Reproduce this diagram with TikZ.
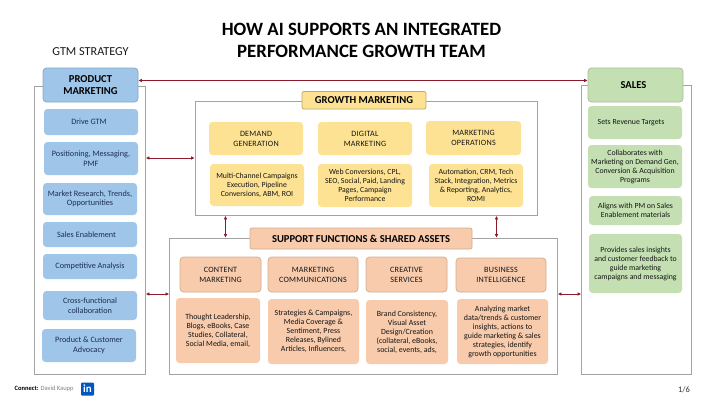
\documentclass[tikz,border=0pt]{standalone}
\usepackage{fontspec}
\setmainfont{Carlito}
\usetikzlibrary{arrows.meta}
\definecolor{bluebx}{HTML}{9FC5E8}
\definecolor{yellowbx}{HTML}{FDE294}
\definecolor{orangebx}{HTML}{F7CBAC}
\definecolor{greenbx}{HTML}{C4E0B2}
\definecolor{framegray}{HTML}{A3A3A3}
\definecolor{linkred}{HTML}{8B1A2B}
\definecolor{navytxt}{HTML}{1C2F4F}
\tikzset{
  framebox/.style={draw=framegray,line width=0.8pt,fill=white},
  bx/.style={rounded corners=3.5pt,align=center,inner sep=0pt,text=black!92},
  bluebox/.style={bx,fill=bluebx,text=navytxt,font=\fontsize{8.2}{9.5}\selectfont},
  yellowbox/.style={bx,fill=yellowbx,font=\fontsize{7.8}{9}\selectfont},
  orangebox/.style={bx,fill=orangebx,font=\fontsize{7.9}{9}\selectfont},
  greenbox/.style={bx,fill=greenbx,font=\fontsize{7.8}{9}\selectfont},
  headfont/.style={font=\fontsize{10.6}{12}\selectfont\bfseries,text=black},
  subfont/.style={font=\fontsize{8.1}{10}\selectfont\addfontfeatures{LetterSpace=3}},
  outlined/.style={draw=#1,line width=0.7pt},
  link/.style={draw=linkred,line width=0.9pt,{Latex[length=3.5pt,width=3.5pt]}-{Latex[length=3.5pt,width=3.5pt]}},
}
\newcommand{\bxn}[7]{%
  \pgfmathsetmacro{\bw}{#5-#3}\pgfmathsetmacro{\bh}{#6-#4}%
  \node[#2,minimum width=\bw pt,minimum height=\bh pt] (#1) at ({(#3+#5)/2},{(#4+#6)/2}) {#7};}
\begin{document}
\begin{tikzpicture}[x=1pt,y=-1pt]
\useasboundingbox (0,0) rectangle (720,405);
\fill[white] (0,0) rectangle (720,405);
% title
\node[font=\fontsize{18.8}{22}\selectfont\bfseries,align=center,text=black] (title) at (361.5,40.5) {HOW AI SUPPORTS AN INTEGRATED\\PERFORMANCE GROWTH TEAM};
\node[font=\fontsize{12.2}{12}\selectfont,text=black!90] (gtm) at (90.5,52) {GTM STRATEGY};
% frames
\bxn{pmframe}{framebox,bx,rounded corners=0pt}{34.5}{86}{145.5}{374}{}
\bxn{salesframe}{framebox,bx,rounded corners=0pt}{581.5}{85.5}{691.5}{374}{}
\bxn{growthframe}{framebox,bx,rounded corners=0pt}{195}{101}{537.5}{215.5}{}
\bxn{supportframe}{framebox,bx,rounded corners=0pt}{169.5}{238}{557.5}{374}{}
% left column
\bxn{pm}{bluebox,headfont,outlined=bluebx!85!black}{43}{68}{138}{102}{PRODUCT\\MARKETING}
\bxn{drive}{bluebox}{44}{109}{138}{135}{\hspace*{-4pt}Drive GTM}
\bxn{pos}{bluebox}{44}{142}{138}{175}{Positioning, Messaging,\\PMF}
\bxn{research}{bluebox}{43}{183}{137}{215}{Market Research, Trends,\\Opportunities}
\bxn{enable}{bluebox}{43}{222}{137}{247}{\hspace*{-7pt}Sales Enablement}
\bxn{comp}{bluebox}{43}{254}{137}{279}{Competitive Analysis}
\bxn{cross}{bluebox}{43}{291}{137}{320}{Cross-functional\\collaboration}
\bxn{advocacy}{bluebox}{42}{329}{136}{362}{Product \& Customer\\Advocacy}
% growth
\bxn{growth}{yellowbox,headfont,outlined=yellowbx!75!black,rounded corners=2pt}{302}{91.5}{426}{109}{GROWTH MARKETING}
\bxn{demand}{yellowbox,subfont}{209}{122}{303}{155}{DEMAND\\GENERATION}
\bxn{digital}{yellowbox,subfont}{318}{122}{412}{155}{DIGITAL\\MARKETING}
\bxn{ops}{yellowbox,subfont}{426}{121}{521}{155}{MARKETING\\OPERATIONS}
\bxn{demandd}{yellowbox}{210}{164}{304}{206}{Multi-Channel Campaigns\\Execution, Pipeline\\Conversions, ABM, ROI}
\bxn{digitald}{yellowbox}{318}{164}{412}{207}{Web Conversions, CPL,\\SEO, Social, Paid, Landing\\Pages, Campaign\\Performance}
\bxn{opsd}{yellowbox}{429}{164}{523}{207}{Automation, CRM, Tech\\Stack, Integration, Metrics\\\& Reporting, Analytics,\\ROMI}
% support
\bxn{support}{orangebox,headfont,rounded corners=2pt,outlined=orangebx!85!black}{250}{228}{472}{249}{SUPPORT FUNCTIONS \& SHARED ASSETS}
\bxn{content}{orangebox,subfont,outlined=orangebx!85!black}{180}{257}{261}{292}{CONTENT\\MARKETING}
\bxn{marcom}{orangebox,subfont,outlined=orangebx!85!black}{268}{257}{358}{292}{MARKETING\\COMMUNICATIONS}
\bxn{creative}{orangebox,subfont,outlined=orangebx!85!black}{366}{257}{447}{292}{CREATIVE\\SERVICES}
\bxn{bi}{orangebox,subfont,outlined=orangebx!85!black}{456}{258}{546}{292}{BUSINESS\\INTELLIGENCE}
\bxn{contentd}{orangebox}{176}{298}{260}{363}{Thought Leadership,\\Blogs, eBooks, Case\\Studies,  Collateral,\\Social Media, email,}
\bxn{marcomd}{orangebox}{268}{299}{359}{364}{Strategies \& Campaigns,\\Media Coverage \&\\Sentiment, Press\\Releases, Bylined\\Articles, Influencers,}
\bxn{creatived}{orangebox}{366}{300}{448}{364}{Brand Consistency,\\Visual Asset\\Design/Creation\\(collateral, eBooks,\\social, events, ads,}
\bxn{bid}{orangebox}{457}{299}{548}{364}{Analyzing market\\data/trends \& customer\\insights, actions to\\guide marketing \& sales\\strategies, identify\\growth opportunities}
% sales
\bxn{sales}{greenbox,headfont,outlined=greenbx!85!black}{588}{68}{683}{102}{\hspace*{-4pt}SALES}
\bxn{targets}{greenbox}{588}{106}{682}{139}{\hspace*{-8pt}Sets Revenue Targets}
\bxn{collab}{greenbox}{588}{145}{682}{188}{Collaborates with\\Marketing on Demand Gen,\\Conversion \& Acquisition\\Programs}
\bxn{aligns}{greenbox}{589}{196}{682}{225}{Aligns with PM on Sales\\Enablement materials}
\bxn{provides}{greenbox}{589}{234}{682}{293}{Provides sales insights\\and customer feedback to\\guide marketing\\campaigns and messaging}
% connectors
\coordinate (ytop) at (0,80.5);
\coordinate (ygrowth) at (0,158);
\coordinate (ysup) at (0,294);
\coordinate (xl) at (225.5,0);
\coordinate (xr) at (496.5,0);
\draw[link] (pm.east |- ytop) -- (sales.west |- ytop);
\draw[link] (pmframe.east |- ygrowth) -- (growthframe.west |- ygrowth);
\draw[link] (pmframe.east |- ysup) -- (supportframe.west |- ysup);
\draw[link] (supportframe.east |- ysup) -- (salesframe.west |- ysup);
\draw[link] (xl |- growthframe.south) -- (xl |- supportframe.north);
\draw[link] (xr |- growthframe.south) -- (xr |- supportframe.north);
% footer
\node[anchor=west,inner sep=0pt,font=\fontsize{6.5}{7}\selectfont] (connect) at (14.5,388.5) {\textbf{Connect:} \textcolor{black!50}{David Kaupp}};
\node[fill=blue!55!cyan!75!black,rounded corners=1pt,minimum width=13pt,minimum height=13pt,inner sep=0pt,text=white,font=\fontsize{11}{10}\selectfont\bfseries] (li) at (87.5,389) {in};
\node[font=\fontsize{8.5}{9}\selectfont,text=black!80] (page) at (684,390) {1/6};
\end{tikzpicture}
\end{document}
